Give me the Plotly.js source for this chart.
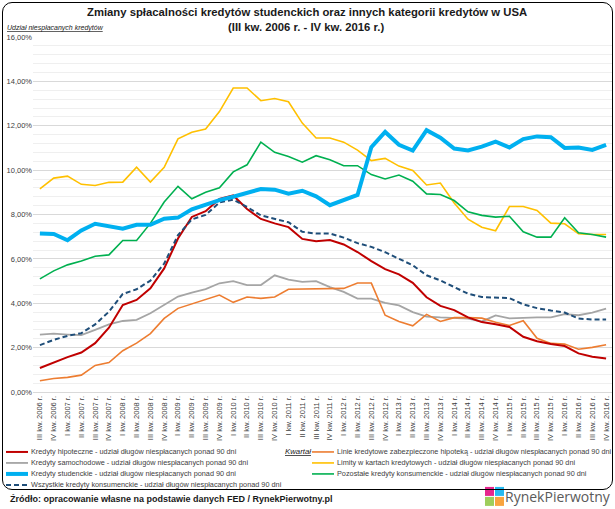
<!DOCTYPE html>
<html><head><meta charset="utf-8">
<script src="https://cdn.plot.ly/plotly-3.0.1.min.js"></script>
<style>
html,body{margin:0;padding:0;background:#fff;}
#wrap{position:relative;width:615px;height:509px;overflow:hidden;}
#chart{position:absolute;left:0;top:0;width:615px;height:509px;}
#frame{position:absolute;left:2px;top:2px;width:611px;height:488px;border:1.5px solid #000;border-radius:10px;pointer-events:none;box-sizing:border-box;}
</style></head>
<body><div id="wrap"><div id="chart"></div><div id="frame"></div></div>
<script>
const quarters = [
 "III kw. 2006 r.","IV kw. 2006 r.",
 "I kw. 2007 r.","II kw. 2007 r.","III kw. 2007 r.","IV kw. 2007 r.",
 "I kw. 2008 r.","II kw. 2008 r.","III kw. 2008 r.","IV kw. 2008 r.",
 "I kw. 2009 r.","II kw. 2009 r.","III kw. 2009 r.","IV kw. 2009 r.",
 "I kw. 2010 r.","II kw. 2010 r.","III kw. 2010 r.","IV kw. 2010 r.",
 "I kw. 2011 r.","II kw. 2011 r.","III kw. 2011 r.","IV kw. 2011 r.",
 "I kw. 2012 r.","II kw. 2012 r.","III kw. 2012 r.","IV kw. 2012 r.",
 "I kw. 2013 r.","II kw. 2013 r.","III kw. 2013 r.","IV kw. 2013 r.",
 "I kw. 2014 r.","II kw. 2014 r.","III kw. 2014 r.","IV kw. 2014 r.",
 "I kw. 2015 r.","II kw. 2015 r.","III kw. 2015 r.","IV kw. 2015 r.",
 "I kw. 2016 r.","II kw. 2016 r.","III kw. 2016 r.","IV kw. 2016 r."
];

const mortgage = [1.08,1.33,1.57,1.78,2.20,2.90,3.92,4.15,4.67,5.57,6.92,7.89,8.15,8.70,8.86,8.25,7.80,7.60,7.43,6.90,6.80,6.85,6.65,6.31,5.90,5.54,5.30,4.92,4.27,3.88,3.69,3.36,3.15,3.05,2.93,2.49,2.29,2.16,2.07,1.74,1.59,1.51];
const heloc = [0.51,0.61,0.66,0.76,1.20,1.33,1.86,2.20,2.63,3.32,3.77,3.97,4.15,4.37,4.04,4.28,4.22,4.28,4.63,4.64,4.66,4.67,4.67,4.91,4.91,3.46,3.18,2.98,3.50,3.18,3.35,3.35,3.33,3.14,3.00,3.21,2.42,2.19,2.16,1.93,2.01,2.13];
const auto = [2.59,2.63,2.59,2.56,2.80,3.05,3.20,3.25,3.55,3.92,4.30,4.48,4.64,4.90,5.00,4.82,4.82,5.26,5.06,4.96,5.00,4.73,4.51,4.21,4.21,4.02,3.90,3.60,3.40,3.36,3.34,3.31,3.18,3.45,3.32,3.35,3.36,3.36,3.51,3.46,3.58,3.76];
const creditCard = [9.16,9.64,9.73,9.36,9.31,9.45,9.46,10.13,9.46,10.13,11.41,11.71,11.85,12.64,13.70,13.70,13.13,13.23,13.08,12.12,11.45,11.45,11.26,10.90,10.43,10.53,10.18,9.98,9.33,9.42,8.52,7.79,7.43,7.27,8.36,8.36,8.18,7.61,7.58,7.13,7.10,7.10];
const student = [7.14,7.12,6.84,7.28,7.58,7.49,7.36,7.54,7.54,7.81,7.86,8.23,8.46,8.65,8.80,8.98,9.15,9.12,8.94,9.07,8.82,8.42,8.66,8.88,11.03,11.72,11.14,10.88,11.80,11.46,10.97,10.89,11.06,11.28,11.02,11.40,11.52,11.48,11.00,11.02,10.91,11.14];
const otherConsumer = [5.10,5.46,5.73,5.90,6.12,6.18,6.83,6.83,7.60,8.56,9.27,8.71,9.00,9.20,9.92,10.24,11.26,10.80,10.61,10.36,10.65,10.47,10.20,10.20,9.80,9.60,9.78,9.50,8.93,8.90,8.63,8.12,7.96,7.88,7.92,7.22,6.98,6.98,7.85,7.18,7.10,6.98];
const allConsumer = [2.11,2.35,2.53,2.65,3.05,3.62,4.42,4.63,5.02,5.79,7.07,7.78,7.98,8.54,8.67,8.34,7.96,7.80,7.65,7.22,7.14,7.14,6.96,6.71,6.54,6.30,6.00,5.71,5.26,5.03,4.73,4.43,4.28,4.26,4.23,3.95,3.78,3.67,3.58,3.31,3.27,3.27];

const seriesNames = [
 "Kredyty hipoteczne - udział długów niespłacanych ponad 90 dni",
 "Linie kredytowe zabezpieczone hipoteką - udział długów niespłacanych ponad 90 dni",
 "Kredyty samochodowe - udział długów niespłacanych ponad 90 dni",
 "Limity w kartach kredytowych - udział długów niespłacanych ponad 90 dni",
 "Kredyty studenckie - udział długów niespłacanych ponad 90 dni",
 "Pozostałe kredyty konsumenckie - udział długów niespłacanych ponad 90 dni",
 "Wszystkie kredyty konsumenckie - udział długów niespłacanych ponad 90 dni"
];
const seriesData = [mortgage, heloc, auto, creditCard, student, otherConsumer, allConsumer];
const titleLines = [
 "Zmiany spłacalności kredytów studenckich oraz innych kategorii kredytów w USA",
 "(III kw. 2006 r. - IV kw. 2016 r.)"
];

const styles = [
 {color:'#C00000', width:2, dash:'solid'},
 {color:'#ED7D31', width:1.6, dash:'solid'},
 {color:'#A5A5A5', width:1.8, dash:'solid'},
 {color:'#FFC000', width:1.6, dash:'solid'},
 {color:'#00B0F0', width:4, dash:'solid'},
 {color:'#00B050', width:1.6, dash:'solid'},
 {color:'#1F4E79', width:2, dash:'5px,3px'}
];
const drawOrder = [2,1,3,5,0,6,4];

const FONT = 'Liberation Sans, Arial, sans-serif';
const traces = drawOrder.map(k => ({
  type:'scatter', mode:'lines', x:quarters, y:seriesData[k], name:seriesNames[k],
  line:{color:styles[k].color, width:styles[k].width, dash:styles[k].dash},
  showlegend:false, hoverinfo:'skip'
}));

const ML=33, MR=2, MT=36.7, MB=117, W=615, H=509;
const PW=W-ML-MR, PH=H-MT-MB;
const px = v => (v-ML)/PW;
const py = v => (H-MB-v)/PH;

const shapes = [];
const annotations = [];
// title lines
annotations.push({xref:'paper', yref:'paper', x:px(307), y:py(12), xanchor:'center', yanchor:'middle', showarrow:false,
  text:'<b>'+titleLines[0]+'</b>', font:{family:FONT, size:11.3, color:'#1a1a1a'}});
annotations.push({xref:'paper', yref:'paper', x:px(306), y:py(27), xanchor:'center', yanchor:'middle', showarrow:false,
  text:'<b>'+titleLines[1]+'</b>', font:{family:FONT, size:11.3, color:'#1a1a1a'}});
// manual legend (two columns)
const legendPos = [
 {x:6, y:452},{x:312, y:452},
 {x:6, y:463},{x:312, y:463},
 {x:6, y:474},{x:312, y:474},
 {x:6, y:485}
];
seriesNames.forEach((n,k)=>{
  const p = legendPos[k];
  shapes.push({type:'line', xref:'paper', yref:'paper', x0:px(p.x), x1:px(p.x+22), y0:py(p.y), y1:py(p.y),
    line:{color:styles[k].color, width:styles[k].width, dash:styles[k].dash}});
  annotations.push({xref:'paper', yref:'paper', x:px(p.x+23), y:py(p.y), xanchor:'left', yanchor:'middle',
    text:n, showarrow:false, font:{family:FONT, size:7.3, color:'#404040'}});
});
annotations.push({xref:'paper', yref:'paper', x:px(283), y:py(452), xanchor:'left', yanchor:'middle', showarrow:false,
  text:'<span style="text-decoration:underline"><i>Kwartał</i></span>', font:{family:FONT, size:7.8, color:'#202020'}});
annotations.push({xref:'paper', yref:'paper', x:px(5), y:py(28), xanchor:'left', yanchor:'middle', showarrow:false,
  text:'<span style="text-decoration:underline"><i>Udział niespłacanych kredytów</i></span>', font:{family:FONT, size:7, color:'#202020'}});
annotations.push({xref:'paper', yref:'paper', x:px(8), y:py(499), xanchor:'left', yanchor:'middle', showarrow:false,
  text:'<b>Źródło: opracowanie własne na podstawie danych FED / RynekPierwotny.pl</b>', font:{family:FONT, size:9, color:'#1a1a1a'}});
annotations.push({xref:'paper', yref:'paper', x:px(613), y:py(497), xanchor:'right', yanchor:'middle', showarrow:false,
  text:'RynekPierwotny', font:{family:'Open Sans, sans-serif', size:14, color:'#5a5a5a'}});
// logo cube
const cube = [
 {x0:485,x1:494,y0:487,y1:496,c:'#E2007A'},
 {x0:495,x1:504,y0:487,y1:496,c:'#00AEEF'},
 {x0:485,x1:494,y0:497,y1:506,c:'#8DC63F'},
 {x0:495,x1:504,y0:497,y1:506,c:'#F7941D'}
];
cube.forEach(r=>shapes.push({type:'rect', xref:'paper', yref:'paper', x0:px(r.x0), x1:px(r.x1), y0:py(r.y1), y1:py(r.y0),
  fillcolor:r.c, line:{width:0}, opacity:0.85}));

const layout = {
  width:W, height:H, margin:{l:ML, r:MR, t:MT, b:MB, pad:0},
  paper_bgcolor:'#ffffff', plot_bgcolor:'#ffffff',
  separators:', ',
  font:{family:FONT, color:'#404040'},
  xaxis:{type:'category', range:[-0.5,41.5], tickangle:-90, tickfont:{family:FONT, size:7.5, color:'#404040'},
    showgrid:false, showline:true, linecolor:'#d9d9d9', linewidth:1, ticks:'', zeroline:false, fixedrange:true},
  yaxis:{range:[0,16], dtick:2, tick0:0, tickformat:'.2f', ticksuffix:'%', gridcolor:'#d9d9d9', gridwidth:1,
    minor:{dtick:0.4, showgrid:true, gridcolor:'#efefef', gridwidth:1},
    zeroline:false, showline:false, ticks:'', tickfont:{family:FONT, size:7.5, color:'#404040'}, fixedrange:true},
  shapes:shapes, annotations:annotations, showlegend:false
};
Plotly.newPlot('chart', traces, layout, {displayModeBar:false, staticPlot:true});
</script>
</body></html>
